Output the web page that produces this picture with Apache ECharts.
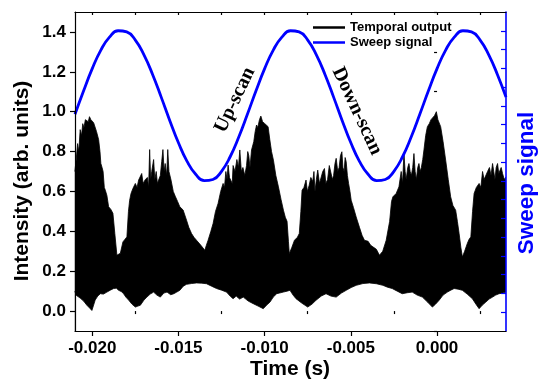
<!DOCTYPE html>
<html>
<head>
<meta charset="utf-8">
<script src="https://cdn.jsdelivr.net/npm/echarts@6/dist/echarts.min.js"></script>
<style>
html,body{margin:0;padding:0;background:#fff;}
#chart{width:538px;height:383px;}
</style>
</head>
<body>
<div id="chart"></div>
<script>
// ---- Data ----
// Temporal output: upper envelope of the dense signal
var upperTime = [-0.02101,-0.02093,-0.02085,-0.02078,-0.02070,-0.02062,-0.02055,-0.02048,-0.02040,-0.02031,-0.02023,-0.02016,-0.02008,-0.02000,-0.01992,-0.01983,-0.01975,-0.01963,-0.01955,-0.01950,-0.01943,-0.01937,-0.01930,-0.01924,-0.01915,-0.01905,-0.01892,-0.01880,-0.01869,-0.01857,-0.01847,-0.01837,-0.01822,-0.01810,-0.01799,-0.01790,-0.01783,-0.01775,-0.01764,-0.01750,-0.01740,-0.01731,-0.01722,-0.01713,-0.01705,-0.01692,-0.01680,-0.01673,-0.01667,-0.01661,-0.01655,-0.01644,-0.01637,-0.01629,-0.01622,-0.01615,-0.01605,-0.01597,-0.01590,-0.01583,-0.01577,-0.01568,-0.01562,-0.01555,-0.01543,-0.01530,-0.01517,-0.01505,-0.01492,-0.01473,-0.01453,-0.01440,-0.01424,-0.01410,-0.01395,-0.01370,-0.01347,-0.01338,-0.01328,-0.01312,-0.01299,-0.01285,-0.01270,-0.01255,-0.01241,-0.01233,-0.01225,-0.01218,-0.01212,-0.01204,-0.01196,-0.01188,-0.01183,-0.01172,-0.01161,-0.01152,-0.01144,-0.01135,-0.01126,-0.01115,-0.01105,-0.01098,-0.01092,-0.01085,-0.01076,-0.01070,-0.01063,-0.01055,-0.01047,-0.01040,-0.01030,-0.01022,-0.01012,-0.01005,-0.00999,-0.00990,-0.00980,-0.00970,-0.00960,-0.00949,-0.00935,-0.00920,-0.00905,-0.00891,-0.00880,-0.00870,-0.00862,-0.00857,-0.00842,-0.00827,-0.00810,-0.00799,-0.00790,-0.00783,-0.00772,-0.00760,-0.00752,-0.00742,-0.00732,-0.00721,-0.00714,-0.00708,-0.00700,-0.00692,-0.00682,-0.00673,-0.00663,-0.00653,-0.00645,-0.00635,-0.00625,-0.00615,-0.00607,-0.00600,-0.00592,-0.00585,-0.00576,-0.00568,-0.00560,-0.00552,-0.00546,-0.00539,-0.00533,-0.00527,-0.00520,-0.00513,-0.00505,-0.00498,-0.00485,-0.00469,-0.00450,-0.00435,-0.00421,-0.00400,-0.00385,-0.00372,-0.00352,-0.00334,-0.00315,-0.00295,-0.00275,-0.00264,-0.00256,-0.00237,-0.00221,-0.00208,-0.00200,-0.00192,-0.00185,-0.00179,-0.00170,-0.00163,-0.00156,-0.00149,-0.00141,-0.00134,-0.00127,-0.00120,-0.00112,-0.00105,-0.00098,-0.00091,-0.00083,-0.00076,-0.00066,-0.00056,-0.00045,-0.00035,-0.00027,-0.00015,-0.00004,0.00005,0.00012,0.00021,0.00035,0.00050,0.00065,0.00079,0.00092,0.00108,0.00118,0.00128,0.00138,0.00147,0.00160,0.00176,0.00186,0.00196,0.00206,0.00215,0.00228,0.00244,0.00254,0.00264,0.00273,0.00283,0.00293,0.00304,0.00313,0.00322,0.00329,0.00336,0.00343,0.00351,0.00358,0.00365,0.00372,0.00380,0.00390,0.00400];
var upperValue = [0.70,0.76,0.84,0.80,0.91,0.88,0.94,0.92,0.96,0.967,0.95,0.975,0.96,0.967,0.945,0.95,0.90,0.86,0.80,0.74,0.72,0.70,0.62,0.606,0.58,0.523,0.51,0.49,0.389,0.28,0.27,0.29,0.347,0.36,0.372,0.50,0.556,0.59,0.615,0.64,0.62,0.657,0.66,0.69,0.64,0.66,0.67,0.62,0.81,0.66,0.70,0.76,0.66,0.70,0.64,0.657,0.68,0.75,0.81,0.70,0.74,0.68,0.81,0.70,0.657,0.60,0.573,0.55,0.523,0.507,0.456,0.42,0.389,0.37,0.355,0.33,0.305,0.33,0.355,0.40,0.439,0.50,0.54,0.60,0.64,0.62,0.70,0.66,0.732,0.67,0.68,0.64,0.73,0.70,0.76,0.72,0.808,0.70,0.72,0.68,0.73,0.80,0.78,0.72,0.808,0.80,0.85,0.90,0.933,0.92,0.96,0.978,0.95,0.96,0.94,0.93,0.925,0.86,0.80,0.757,0.68,0.623,0.56,0.506,0.47,0.45,0.35,0.288,0.32,0.355,0.37,0.389,0.50,0.606,0.62,0.657,0.60,0.63,0.67,0.65,0.70,0.60,0.66,0.707,0.64,0.64,0.70,0.715,0.64,0.66,0.73,0.724,0.66,0.68,0.74,0.766,0.70,0.72,0.78,0.799,0.72,0.70,0.77,0.749,0.68,0.64,0.60,0.556,0.52,0.472,0.42,0.38,0.355,0.35,0.33,0.322,0.31,0.28,0.30,0.355,0.45,0.55,0.573,0.59,0.623,0.70,0.64,0.79,0.70,0.66,0.72,0.74,0.70,0.68,0.72,0.79,0.70,0.66,0.72,0.74,0.70,0.72,0.76,0.808,0.88,0.925,0.94,0.96,0.967,0.98,1.0,0.96,0.95,0.925,0.85,0.757,0.66,0.573,0.53,0.506,0.45,0.389,0.32,0.271,0.30,0.34,0.36,0.372,0.50,0.59,0.62,0.64,0.62,0.70,0.66,0.657,0.70,0.72,0.68,0.74,0.70,0.66,0.72,0.74,0.69,0.68,0.72,0.69,0.66,0.673];
// Temporal output: lower envelope of the dense signal
var lowerTime = [-0.02101,-0.02093,-0.02082,-0.02070,-0.02050,-0.02031,-0.02015,-0.02002,-0.01992,-0.01983,-0.01968,-0.01953,-0.01935,-0.01915,-0.01895,-0.01876,-0.01860,-0.01847,-0.01832,-0.01818,-0.01805,-0.01789,-0.01770,-0.01750,-0.01735,-0.01721,-0.01700,-0.01683,-0.01664,-0.01644,-0.01625,-0.01605,-0.01585,-0.01566,-0.01545,-0.01527,-0.01510,-0.01492,-0.01472,-0.01453,-0.01425,-0.01395,-0.01365,-0.01337,-0.01308,-0.01279,-0.01250,-0.01221,-0.01200,-0.01183,-0.01165,-0.01145,-0.01124,-0.01095,-0.01066,-0.01038,-0.01008,-0.00988,-0.00969,-0.00950,-0.00930,-0.00892,-0.00870,-0.00853,-0.00835,-0.00818,-0.00785,-0.00750,-0.00725,-0.00702,-0.00672,-0.00644,-0.00615,-0.00585,-0.00555,-0.00527,-0.00498,-0.00469,-0.00430,-0.00392,-0.00352,-0.00314,-0.00288,-0.00260,-0.00231,-0.00202,-0.00172,-0.00144,-0.00115,-0.00085,-0.00055,-0.00027,-0.00008,0.00012,0.00035,0.00060,0.00080,0.00099,0.00122,0.00147,0.00175,0.00205,0.00225,0.00244,0.00263,0.00283,0.00302,0.00322,0.00340,0.00360,0.00380,0.00400];
var lowerValue = [0.10,0.079,0.085,0.065,0.05,0.029,0.015,0.003,0.03,0.055,0.075,0.087,0.085,0.095,0.105,0.113,0.115,0.104,0.098,0.087,0.07,0.055,0.035,0.02,0.025,0.029,0.055,0.07,0.085,0.095,0.08,0.07,0.09,0.095,0.082,0.087,0.095,0.104,0.125,0.134,0.138,0.141,0.140,0.137,0.125,0.113,0.105,0.095,0.075,0.062,0.075,0.06,0.07,0.05,0.037,0.025,0.012,0.03,0.045,0.07,0.087,0.095,0.10,0.104,0.08,0.062,0.04,0.02,0.035,0.054,0.075,0.087,0.075,0.07,0.09,0.104,0.118,0.129,0.138,0.141,0.137,0.129,0.12,0.113,0.10,0.087,0.092,0.095,0.08,0.07,0.045,0.02,0.035,0.054,0.08,0.095,0.105,0.113,0.11,0.104,0.085,0.062,0.035,0.012,0.03,0.045,0.06,0.07,0.08,0.087,0.09,0.095];
// Sweep signal (plotted in left-axis units)
var sweepTime = [-0.0210,-0.0205,-0.0200,-0.0195,-0.0190,-0.0185,-0.0180,-0.0175,-0.0170,-0.0165,-0.0160,-0.0155,-0.0150,-0.0145,-0.0140,-0.0135,-0.0130,-0.0125,-0.0120,-0.0115,-0.0110,-0.0105,-0.0100,-0.0095,-0.0090,-0.0085,-0.0080,-0.0075,-0.0070,-0.0065,-0.0060,-0.0055,-0.0050,-0.0045,-0.0040,-0.0035,-0.0030,-0.0025,-0.0020,-0.0015,-0.0010,-0.0005,0.0000,0.0005,0.0010,0.0015,0.0020,0.0025,0.0030,0.0035,0.0040];
var sweepValue = [0.987,1.105,1.216,1.309,1.374,1.406,1.400,1.359,1.285,1.187,1.073,0.955,0.844,0.751,0.686,0.654,0.660,0.701,0.774,0.873,0.987,1.105,1.216,1.309,1.374,1.406,1.400,1.359,1.285,1.187,1.073,0.955,0.844,0.751,0.686,0.654,0.660,0.701,0.774,0.873,0.987,1.105,1.216,1.309,1.374,1.406,1.400,1.359,1.285,1.187,1.073];
// Tick values
var xMajorTicks = [-0.020,-0.015,-0.010,-0.005,0.000];
var xMinorTicks = [-0.0175,-0.0125,-0.0075,-0.0025,0.0025];
var xTopTicks = [-0.020,-0.0175,-0.015,-0.0125,-0.010,-0.0075,-0.005,-0.0025,0.000,0.0025];
var yMajorTicks = [0.0,0.2,0.4,0.6,0.8,1.0,1.2,1.4];
var yMinorTicks = [-0.1,0.1,0.3,0.5,0.7,0.9,1.1,1.3,1.5];
var rightTicks = [1,2,3,4,5,6,7,8,9,10,11,12,13,14,15,16];
var seriesNames = ['Temporal output','Sweep signal'];

function zip(a,b){var r=[];for(var i=0;i<a.length;i++){r.push([a[i],b[i]]);}return r;}

var FONT = 'Liberation Sans, Arial, sans-serif';
var chart = echarts.init(document.getElementById('chart'), null, {renderer:'canvas'});
var option = {
  animation:false,
  backgroundColor:'#fff',
  grid:{left:75,right:32,top:12,bottom:52},
  legend:{
    data:[{name:seriesNames[0],icon:'rect'},{name:seriesNames[1],icon:'rect'}],
    orient:'vertical', left:313, top:21, padding:0, itemWidth:32, itemHeight:2.5, itemGap:2,
    textStyle:{fontFamily:FONT,fontWeight:'bold',fontSize:13,color:'#000'}
  },
  xAxis:[{
    type:'value', min:-0.021, max:0.004, position:'bottom', z:10,
    axisLine:{show:true,onZero:false,lineStyle:{color:'#000',width:1.2}},
    axisTick:{show:true,inside:false,length:5,customValues:xMajorTicks,lineStyle:{color:'#000',width:1.2}},
    axisLabel:{customValues:xMajorTicks,margin:9,fontFamily:FONT,fontWeight:'bold',fontSize:17,color:'#000',
      formatter:function(v){return (Math.abs(v)<1e-9?0:v).toFixed(3);}},
    splitLine:{show:false}
  },{
    type:'value', min:-0.021, max:0.004, position:'bottom', z:10,
    axisLine:{show:false},
    axisTick:{show:true,inside:false,length:3,customValues:xMinorTicks,lineStyle:{color:'#000',width:1.2}},
    axisLabel:{show:false}, splitLine:{show:false}
  },{
    type:'value', min:-0.021, max:0.004, position:'top', z:10,
    axisLine:{show:true,onZero:false,lineStyle:{color:'#000',width:1.2}},
    axisTick:{show:true,inside:true,length:3,customValues:xTopTicks,lineStyle:{color:'#000',width:1.2}},
    axisLabel:{show:false}, splitLine:{show:false}
  }],
  yAxis:[{
    type:'value', min:-0.1, max:1.5, position:'left', z:10,
    axisLine:{show:true,onZero:false,lineStyle:{color:'#000',width:1.2}},
    axisTick:{show:true,inside:false,length:5,customValues:yMajorTicks,lineStyle:{color:'#000',width:1.2}},
    axisLabel:{customValues:yMajorTicks,margin:9,fontFamily:FONT,fontWeight:'bold',fontSize:17,color:'#000',
      formatter:function(v){return (Math.abs(v)<1e-9?0:v).toFixed(1);}},
    splitLine:{show:false}
  },{
    type:'value', min:-0.1, max:1.5, position:'left', z:10,
    axisLine:{show:false},
    axisTick:{show:true,inside:false,length:3,customValues:yMinorTicks,lineStyle:{color:'#000',width:1.2}},
    axisLabel:{show:false}, splitLine:{show:false}
  },{
    type:'value', min:0, max:17, position:'right', z:10,
    axisLine:{show:true,onZero:false,lineStyle:{color:'#0000ff',width:1.6}},
    axisTick:{show:true,inside:true,length:5,customValues:rightTicks,lineStyle:{color:'#0000ff',width:1.2}},
    axisLabel:{show:false}, splitLine:{show:false}
  }],
  series:[{
    name:seriesNames[0], type:'line', xAxisIndex:0, yAxisIndex:0,
    data:zip(upperTime,upperValue), showSymbol:false, symbol:'none', z:2,
    lineStyle:{color:'#000',width:0.8}, itemStyle:{color:'#000'},
    areaStyle:{color:'#000',opacity:1,origin:'start'}
  },{
    name:'mask', type:'line', xAxisIndex:0, yAxisIndex:0,
    data:zip(lowerTime,lowerValue), showSymbol:false, symbol:'none', z:3, silent:true,
    lineStyle:{color:'#000',width:0.8}, itemStyle:{color:'#fff'},
    areaStyle:{color:'#fff',opacity:1,origin:'start'}
  },{
    name:seriesNames[1], type:'line', xAxisIndex:0, yAxisIndex:0,
    data:zip(sweepTime,sweepValue), showSymbol:false, symbol:'none', smooth:true, z:4,
    lineStyle:{color:'#0000ff',width:2.8}, itemStyle:{color:'#0000ff'}
  }],
  graphic:[
    {type:'text', x:22, y:181, rotation:Math.PI/2, style:{text:'Intensity (arb. units)',font:'bold 21px '+FONT,fill:'#000',textAlign:'center',textVerticalAlign:'middle'}},
    {type:'text', x:290, y:369, style:{text:'Time (s)',font:'bold 21px '+FONT,fill:'#000',textAlign:'center',textVerticalAlign:'middle'}},
    {type:'text', x:527, y:183, rotation:Math.PI/2, style:{text:'Sweep signal',font:'bold 22.5px '+FONT,fill:'#0000ff',textAlign:'center',textVerticalAlign:'middle'}},
    {type:'text', x:235, y:100, rotation:64.5*Math.PI/180, style:{text:'Up-scan',font:'bold 20px Liberation Serif, Times New Roman, serif',fill:'#000',textAlign:'center',textVerticalAlign:'middle'}},
    {type:'text', x:357, y:111, rotation:-65*Math.PI/180, style:{text:'Down-scan',font:'bold 20px Liberation Serif, Times New Roman, serif',fill:'#000',textAlign:'center',textVerticalAlign:'middle'}}
  ]
};
chart.setOption(option);
</script>
</body>
</html>
